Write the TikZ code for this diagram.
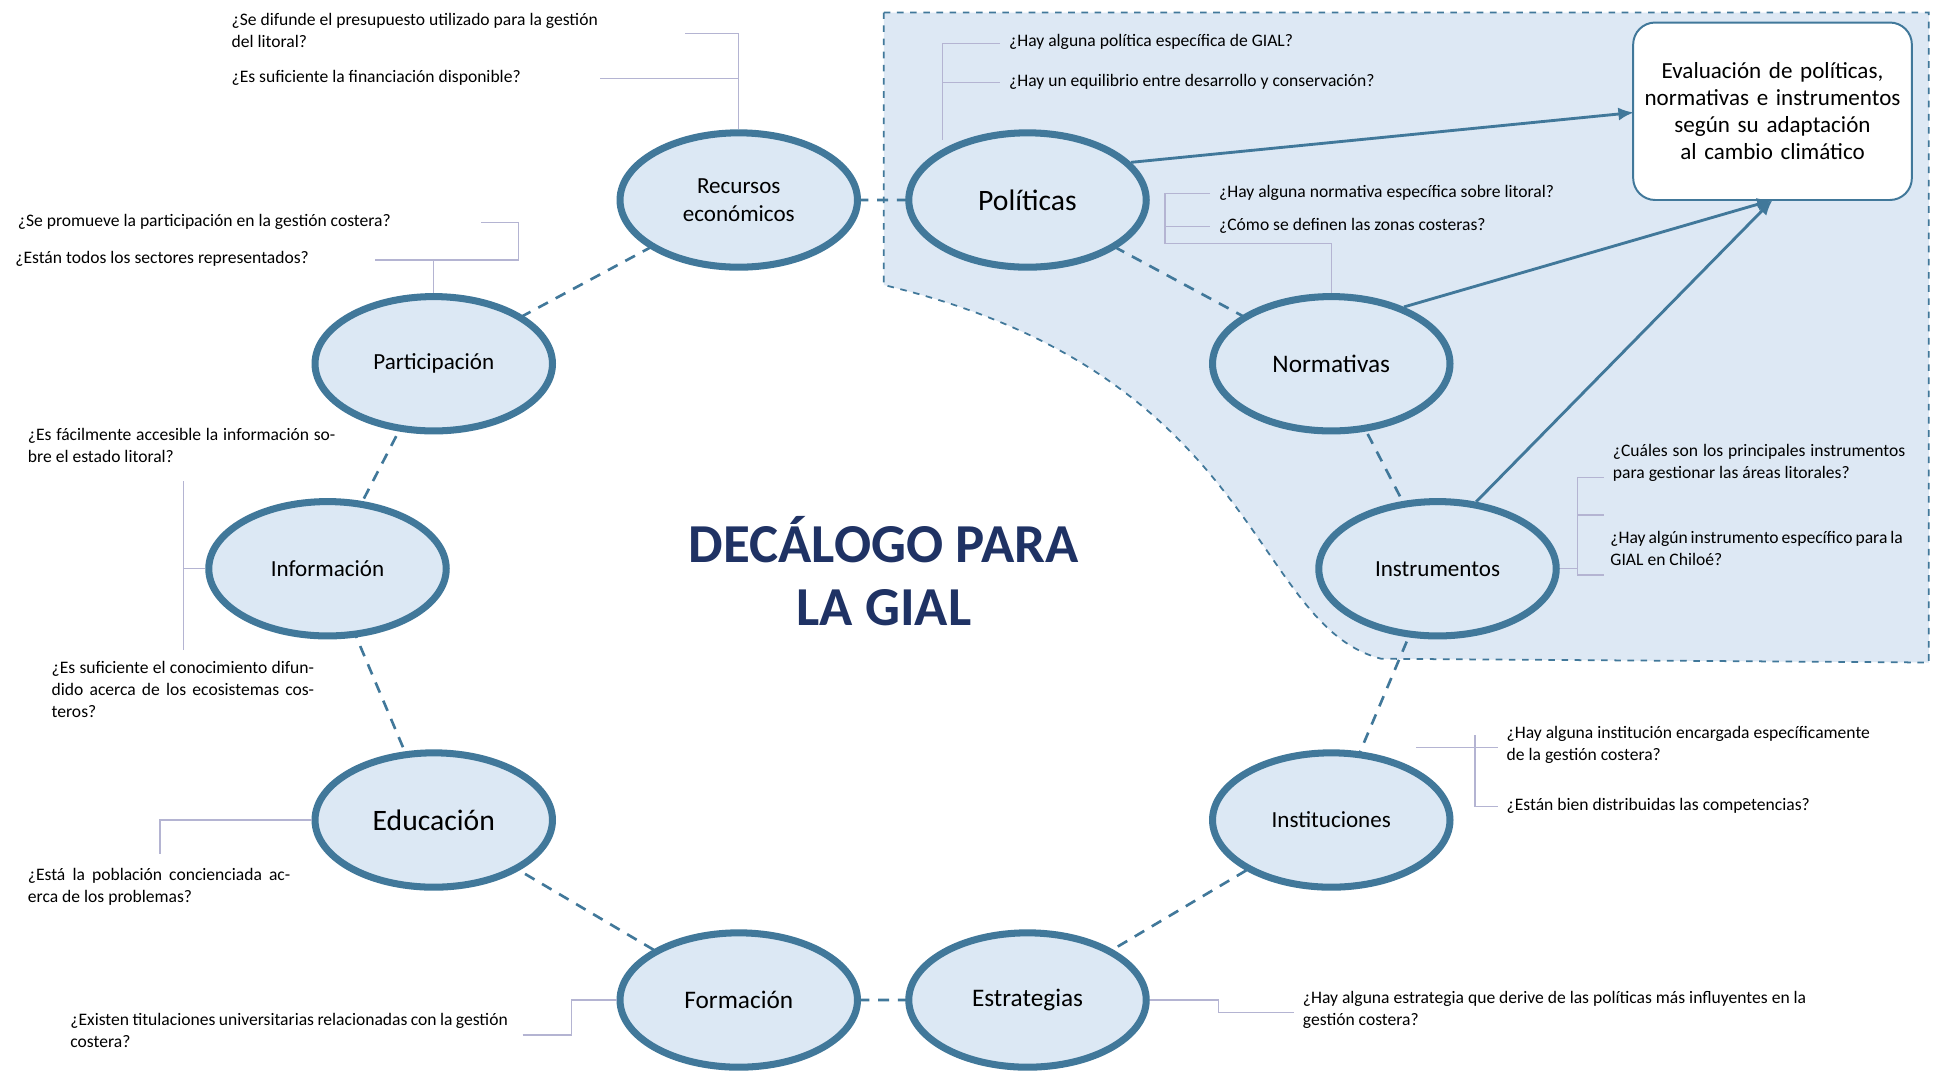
\documentclass[tikz,border=0pt]{standalone}
\usepackage{fontspec}
\setmainfont{Carlito}
\usetikzlibrary{arrows.meta,shapes.geometric}
\definecolor{ring}{HTML}{41789A}
\definecolor{efill}{HTML}{DCE8F4}
\definecolor{zone}{HTML}{DDE8F4}
\definecolor{navy}{HTML}{1F3264}
\definecolor{qline}{HTML}{B4B4D2}
\begin{document}
\begin{tikzpicture}[x=0.02cm,y=-0.02cm,
  el/.style={ellipse,draw=ring,line width=3.2pt,fill=efill,minimum width=3.8cm,minimum height=2.15cm,align=center,font=\fontsize{10.5}{13}\selectfont},
  big/.style={font=\fontsize{13.5}{16}\selectfont},
  q/.style={anchor=north west,font=\fontsize{8}{10}\selectfont,inner sep=0pt,align=left},
  qj/.style={q,align=justify},
  ql/.style={draw=qline,line width=0.5pt},
  ring line/.style={draw=ring,line width=1.2pt,dash pattern=on 5pt off 4pt},
  arr/.style={draw=ring,line width=1.3pt,-{Latex[length=7pt,width=6pt]}}]
\useasboundingbox (0,0) rectangle (1564,860);
\fill[white] (0,0) rectangle (1564,860);
% zone
\draw[fill=zone,draw=ring,dashed,line width=0.8pt] (707,10) -- (1543,10) -- (1543,530) -- (1105,527) .. controls (1000,500) and (1010,300) .. (707,228) -- cycle;
% ring (drawn between centres, under ellipses)
\foreach \a/\b in {591/160/822/160} {}
\coordinate (c1) at (591,160); \coordinate (c2) at (822,160); \coordinate (c3) at (1065,291);
\coordinate (c4) at (1150,455); \coordinate (c5) at (1065,656); \coordinate (c6) at (822,800);
\coordinate (c7) at (591,800); \coordinate (c8) at (347,656); \coordinate (c9) at (262,455);
\coordinate (c10) at (347,291);
\draw[ring line] (c1) -- (c2) (c2) -- (c3) (c3) -- (c4) (c4) -- (c5) (c5) -- (c6) (c6) -- (c7) (c7) -- (c8) (c8) -- (c9) (c9) -- (c10) (c10) -- (c1);
% ellipses
\node[el] (rec) at (c1) {Recursos\\económicos};
\node[el,big] (pol) at (c2) {Políticas};
\node[el] (nor) at (c3) {\fontsize{11.5}{14}\selectfont Normativas};
\node[el] (ins) at (c4) {Instrumentos};
\node[el] (ist) at (c5) {Instituciones};
\node[el] (est) at (c6) {\fontsize{11.5}{14}\selectfont Estrategias};
\node[el] (for) at (c7) {\fontsize{11.5}{14}\selectfont Formación};
\node[el,big] (edu) at (c8) {Educación};
\node[el] (inf) at (c9) {Información};
\node[el] (par) at (c10) {Participación};
% title
\node[font=\bfseries\fontsize{25}{29}\selectfont,text=navy,align=center] (title) at (707,457) {DECÁLOGO PARA\\LA GIAL};
% box
\node[draw=ring,line width=0.9pt,rounded corners=10pt,fill=white,minimum width=4.46cm,minimum height=2.84cm,align=center,text width=4.2cm,font=\fontsize{10.5}{12.2}\selectfont] (box) at (1418,89) {Evaluación de políticas, normativas e instrumentos según su adaptación al cambio climático};
\coordinate (b1) at (1307,90);
\coordinate (b2) at (1418,160);
\draw[arr] (pol.20) -- (b1);
\draw[arr] (nor.38) -- (b2);
\draw[arr] (ins.60) -- (b2);
% questions
\node[q] (q1) at (185,10) {¿Se difunde el presupuesto utilizado para la gestión\\del litoral?};
\node[q] (q2) at (185,56) {¿Es suficiente la financiación disponible?};
\draw[ql] (548,27) -- (591,27) -- (rec.north); \draw[ql] (480,63) -- (591,63);
\node[q] (q3) at (807,27) {¿Hay alguna política específica de GIAL?};
\node[q] (q4) at (807,59) {¿Hay un equilibrio entre desarrollo y conservación?};
\draw[ql] (800,35) -- (754,35) -- (754,112); \draw[ql] (754,66) -- (800,66);
\node[q] (q5) at (975,148) {¿Hay alguna normativa específica sobre litoral?};
\node[q] (q6) at (975,174) {¿Cómo se definen las zonas costeras?};
\draw[ql] (968,155) -- (932,155) -- (932,195) -- (1065,195) -- (nor.north); \draw[ql] (932,181) -- (968,181);
\node[q] (q7) at (14,171) {¿Se promueve la participación en la gestión costera?};
\node[q] (q8) at (12,201) {¿Están todos los sectores representados?};
\draw[ql] (385,178) -- (415,178) -- (415,208) -- (300,208); \draw[ql] (347,208) -- (par.north);
\node[qj,text width=4.92cm] (q9) at (22,342) {¿Es fácilmente accesible la información sobre el estado litoral?};
\node[qj,text width=4.2cm] (q10) at (41,529) {¿Es suficiente el conocimiento difundido acerca de los ecosistemas costeros?};
\draw[ql] (147,385) -- (147,520); \draw[ql] (147,455) -- (inf.west);
\node[qj,text width=4.2cm] (q11) at (22,694) {¿Está la población concienciada acerca de los problemas?};
\draw[ql] (128,683) -- (128,656) -- (edu.west);
\node[qj,text width=7.0cm] (q12) at (56,810) {¿Existen titulaciones universitarias relacionadas con la gestión costera?};
\draw[ql] (418,828) -- (457,828) -- (457,800) -- (for.west);
\node[q] (q13) at (1042,793) {¿Hay alguna estrategia que derive de las políticas más influyentes en la\\gestión costera?};
\draw[ql] (est.east) -- (975,800) -- (975,810) -- (1035,810);
\node[q] (q14) at (1205,581) {¿Hay alguna institución encargada específicamente\\de la gestión costera?};
\node[q] (q15) at (1205,638) {¿Están bien distribuidas las competencias?};
\draw[ql] (1133,598) -- (1198,598); \draw[ql] (1180,588) -- (1180,645) -- (1198,645);
\node[qj,text width=4.68cm] (q16) at (1290,355) {¿Cuáles son los principales instrumentos para gestionar las áreas litorales?};
\node[qj,text width=4.68cm] (q17) at (1288,425) {¿Hay algún instrumento específico para la GIAL en Chiloé?};
\draw[ql] (1283,382) -- (1262,382) -- (1262,460) -- (1283,460); \draw[ql] (1262,412) -- (1283,412); \draw[ql] (ins.east) -- (1262,455);
\end{tikzpicture}
\end{document}
